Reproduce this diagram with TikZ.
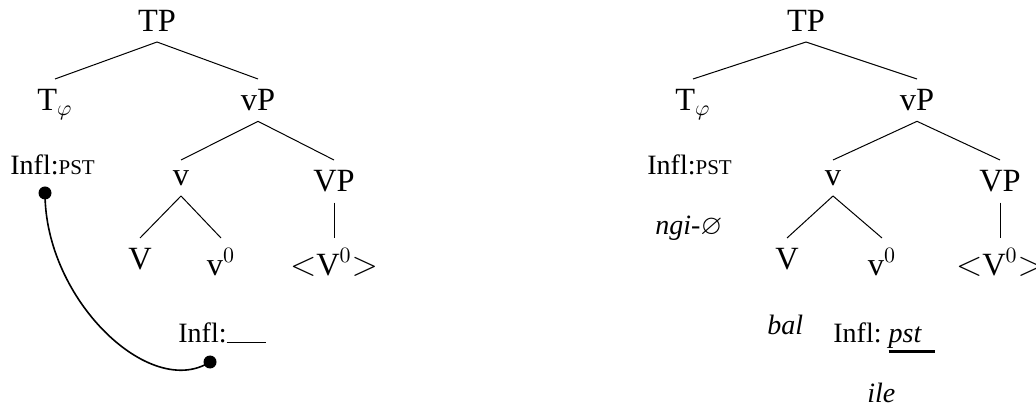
\documentclass[tikz,border=0pt]{standalone}
\usepackage{fontspec}
\setmainfont{Liberation Serif}
\usepackage{amssymb}
\usetikzlibrary{positioning}
\newcommand{\pstcaps}{{\fontsize{10.5}{12}\selectfont PST}}
\newcommand{\slotline}[3]{\rlap{\rule[#3]{#1}{#2}}}

\begin{document}
\begin{tikzpicture}[x=0.5pt,y=-0.5pt,
    cat/.style={font=\fontsize{16.2}{19}\selectfont, anchor=north, inner sep=5pt},
    feat/.style={font=\fontsize{14}{16}\selectfont, anchor=base west, inner sep=0pt},
    branch/.style={line width=0.5pt},
    linkdot/.style={circle, fill=black, inner sep=0pt, minimum size=6.5pt},
    link/.style={line width=0.8pt}]
  \useasboundingbox (0,0) rectangle (1036,410);

  % left tree
  \node[cat] (tp) at (157,0) {TP};
  \node[cat] (tphi) at (55,79) {T$_\varphi$};
  \node[cat] (vp) at (258,79) {vP};
  \node[cat] (v) at (181,160) {v};
  \node[cat] (bigvp) at (334,160) {VP};
  \node[cat] (bigv) at (140,238) {V};
  \node[cat] (vzero) at (221,238) {v$^0$};
  \node[cat] (copy) at (334,238) {$<$V$^0$$>$};
  \draw[branch] (tp.south) -- (tphi.north);
  \draw[branch] (tp.south) -- (vp.north);
  \draw[branch] (vp.south) -- (v.north);
  \draw[branch] (vp.south) -- (bigvp.north);
  \draw[branch] (v.south) -- (bigv.north);
  \draw[branch] (v.south) -- (vzero.north);
  \draw[branch] (bigvp.south) -- (copy.north);

  \node[feat] (inflpst) at (10,175) {Infl:\pstcaps};
  \node[feat] (inflgap) at (178,343) {Infl:\rule{19.5pt}{0.6pt}};
  \node[linkdot] (dota) at (45,193) {};
  \node[linkdot] (dotb) at (210,362) {};
  \draw[link] (dota.center) .. controls +(0,107) and +(-60,38) .. (dotb.center);

  % right tree
  \node[cat] (rtp) at (806,0) {TP};
  \node[cat] (rtphi) at (693,79) {T$_\varphi$};
  \node[cat] (rvp) at (917,79) {vP};
  \node[cat] (rv) at (833,160) {v};
  \node[cat] (rbigvp) at (1000,160) {VP};
  \node[cat] (rbigv) at (787,238) {V};
  \node[cat] (rvzero) at (882,238) {v$^0$};
  \node[cat] (rcopy) at (1000,238) {$<$V$^0$$>$};
  \draw[branch] (rtp.south) -- (rtphi.north);
  \draw[branch] (rtp.south) -- (rvp.north);
  \draw[branch] (rvp.south) -- (rv.north);
  \draw[branch] (rvp.south) -- (rbigvp.north);
  \draw[branch] (rv.south) -- (rbigv.north);
  \draw[branch] (rv.south) -- (rvzero.north);
  \draw[branch] (rbigvp.south) -- (rcopy.north);

  \node[feat] (rinflpst) at (647,175) {Infl:\pstcaps};
  \node[feat] (ngi) at (655,235) {\textit{ngi-}$\varnothing$};
  \node[feat] (bal) at (767,335) {\textit{bal}};
  \node[feat] (rinflpast) at (833,343) {Infl:~\slotline{23pt}{1.3pt}{-5pt}\textit{pst}};
  \node[feat] (ile) at (867,402) {\textit{ile}};
\end{tikzpicture}
\end{document}
